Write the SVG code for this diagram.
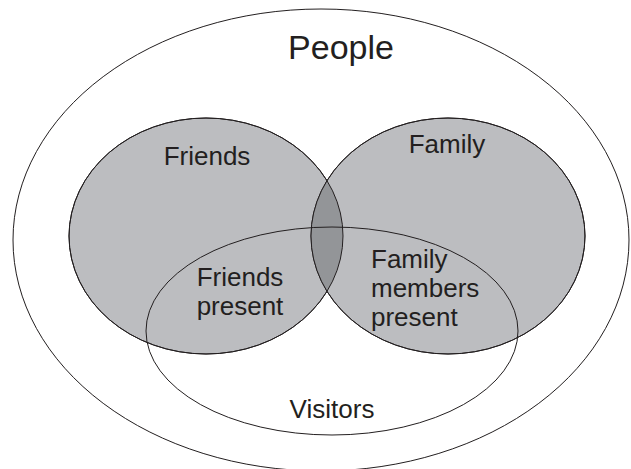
<svg xmlns="http://www.w3.org/2000/svg" width="631" height="469" viewBox="0 0 631 469">
  <style>
    .set { stroke: #231f20; stroke-width: 1; }
    .shaded { fill: #bcbdc0; }
    .overlap { fill: #939598; }
    .open { fill: none; }
    .label { font-family: "Liberation Sans", Arial, sans-serif; font-size: 26px; fill: #231f20; }
    .big { font-size: 34px; }
  </style>
  <defs>
    <clipPath id="clipFriends">
      <ellipse cx="206" cy="236" rx="137" ry="118"/>
    </clipPath>
  </defs>
  <rect width="631" height="469" fill="#ffffff"/>
  <g id="people">
    <ellipse class="set open" cx="321" cy="240" rx="308" ry="231"/>
    <text class="label big" x="341" y="59" text-anchor="middle">People</text>
  </g>
  <g id="friends">
    <ellipse class="set shaded" cx="206" cy="236" rx="137" ry="118"/>
    <text class="label" x="207" y="165" text-anchor="middle">Friends</text>
  </g>
  <g id="family">
    <ellipse class="set shaded" cx="448" cy="236" rx="137" ry="118"/>
    <text class="label" x="447" y="153" text-anchor="middle">Family</text>
  </g>
  <g id="friends-family-overlap">
    <ellipse class="overlap" cx="448" cy="236" rx="137" ry="118" clip-path="url(#clipFriends)"/>
    <ellipse class="set open" cx="206" cy="236" rx="137" ry="118"/>
    <ellipse class="set open" cx="448" cy="236" rx="137" ry="118"/>
  </g>
  <g id="visitors">
    <ellipse class="set open" cx="332" cy="331" rx="186" ry="104"/>
    <text class="label" x="332" y="418" text-anchor="middle">Visitors</text>
  </g>
  <g id="friends-present">
    <text class="label" x="240" text-anchor="middle"><tspan x="240" y="286">Friends</tspan><tspan x="240" y="315">present</tspan></text>
  </g>
  <g id="family-members-present">
    <text class="label"><tspan x="371" y="268">Family</tspan><tspan x="371" y="297">members</tspan><tspan x="371" y="326">present</tspan></text>
  </g>
  <g id="connectors"></g>
</svg>
